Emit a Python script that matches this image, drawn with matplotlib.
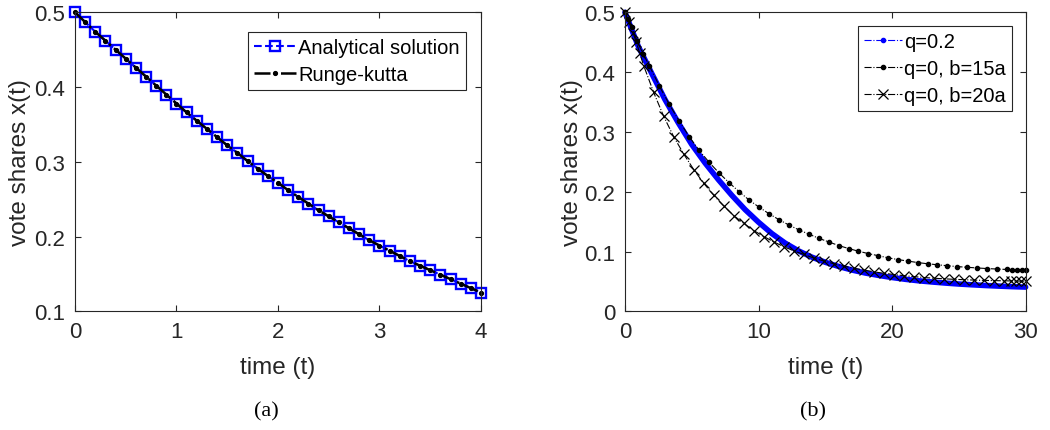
import matplotlib
matplotlib.use('Agg')
import matplotlib.pyplot as plt
from matplotlib.lines import Line2D

plt.rcParams['font.family'] = ['Liberation Sans', 'DejaVu Sans']

# (a) analytical solution vs Runge-Kutta, t = 0..4 step 0.1
t_a = [0.0, 0.1, 0.2, 0.3, 0.4, 0.5, 0.6, 0.7, 0.8, 0.9,
       1.0, 1.1, 1.2, 1.3, 1.4, 1.5, 1.6, 1.7, 1.8, 1.9,
       2.0, 2.1, 2.2, 2.3, 2.4, 2.5, 2.6, 2.7, 2.8, 2.9,
       3.0, 3.1, 3.2, 3.3, 3.4, 3.5, 3.6, 3.7, 3.8, 3.9, 4.0]
x_analytical = [0.500, 0.487, 0.474, 0.462, 0.450, 0.438, 0.426, 0.414, 0.402, 0.390,
                0.378, 0.366, 0.355, 0.344, 0.333, 0.322, 0.312, 0.301, 0.291, 0.281,
                0.272, 0.262, 0.253, 0.244, 0.235, 0.227, 0.219, 0.211, 0.203, 0.195,
                0.188, 0.181, 0.174, 0.167, 0.161, 0.155, 0.149, 0.143, 0.137, 0.131, 0.125]
x_rk = [0.500, 0.487, 0.474, 0.462, 0.450, 0.438, 0.426, 0.414, 0.402, 0.390,
        0.378, 0.366, 0.355, 0.344, 0.333, 0.322, 0.312, 0.301, 0.291, 0.281,
        0.272, 0.262, 0.253, 0.244, 0.235, 0.227, 0.219, 0.211, 0.203, 0.195,
        0.188, 0.181, 0.174, 0.167, 0.161, 0.155, 0.149, 0.143, 0.137, 0.131, 0.125]

# (b) q = 0.2
t_q02 = list(range(0, 31))
x_q02 = [0.500, 0.443, 0.398, 0.354, 0.315, 0.279, 0.248, 0.220, 0.194, 0.170,
         0.149, 0.130, 0.114, 0.101, 0.0905, 0.0820, 0.0750, 0.0690, 0.0640, 0.0600,
         0.0565, 0.0535, 0.0510, 0.0490, 0.0472, 0.0456, 0.0443, 0.0431, 0.0421, 0.0412, 0.0405]

# (b) q = 0, b = 15a
t_b15 = [0.0, 0.2, 0.5, 0.9, 1.37, 1.82, 2.57, 3.32, 4.07, 4.81, 5.56, 6.31, 7.06, 7.8,
         8.55, 9.3, 10.05, 10.8, 11.55, 12.3, 13.04, 13.78, 14.52, 15.26, 16.0, 16.74,
         17.48, 18.22, 18.96, 19.7, 20.44, 21.18, 21.92, 22.66, 23.4, 24.14, 24.88,
         25.62, 26.36, 27.1, 27.84, 28.58, 28.96, 29.34, 29.7, 30.0]
x_b15 = [0.500, 0.488, 0.476, 0.452, 0.430, 0.411, 0.377, 0.346, 0.318, 0.292, 0.269,
         0.249, 0.231, 0.215, 0.200, 0.186, 0.174, 0.163, 0.153, 0.144, 0.136, 0.129,
         0.122, 0.116, 0.110, 0.105, 0.1005, 0.0965, 0.0930, 0.0895, 0.0865, 0.0840,
         0.0815, 0.0795, 0.0778, 0.0762, 0.0748, 0.0736, 0.0725, 0.0715, 0.0707,
         0.0700, 0.0697, 0.0694, 0.0692, 0.0690]

# (b) q = 0, b = 20a
t_b20 = [0.0, 0.3, 0.6, 0.85, 1.1, 1.4, 2.15, 2.9, 3.65, 4.4, 5.15, 5.9, 6.65, 7.4,
         8.15, 8.9, 9.65, 10.4, 11.15, 11.9, 12.65, 13.4, 14.15, 14.9, 15.65, 16.4,
         17.15, 17.9, 18.65, 19.4, 20.15, 20.9, 21.65, 22.4, 23.15, 23.9, 24.65,
         25.4, 26.15, 26.9, 27.65, 28.4, 28.9, 29.3, 29.65, 30.0]
x_b20 = [0.500, 0.483, 0.466, 0.450, 0.432, 0.411, 0.366, 0.326, 0.292, 0.263, 0.237,
         0.214, 0.194, 0.176, 0.160, 0.147, 0.135, 0.125, 0.116, 0.108, 0.101, 0.095,
         0.089, 0.084, 0.0795, 0.0755, 0.0720, 0.0690, 0.0660, 0.0635, 0.0615,
         0.0595, 0.0580, 0.0565, 0.0553, 0.0543, 0.0535, 0.0528, 0.0522, 0.0517,
         0.0513, 0.0510, 0.0508, 0.0506, 0.0505, 0.0504]

DARK = '#262626'


def style_axes(ax):
    for s in ax.spines.values():
        s.set_color(DARK)
        s.set_linewidth(0.8)
    ax.tick_params(direction='in', top=True, right=True, length=4, width=0.8,
                   colors=DARK, labelsize=16, pad=7)
    ax.xaxis.label.set_va('center')
    ax.yaxis.label.set_va('center')


fig = plt.figure(figsize=(10.5, 4.31), dpi=100)
ax1 = fig.add_axes([0.0714, 0.2754, 0.3867, 0.6937])
ax2 = fig.add_axes([0.5952, 0.2754, 0.3816, 0.6937])

# left panel
ax1.plot(t_a, x_analytical, ls='--', color='#0000ff', lw=1.5, marker='s', ms=7.5,
         mfc='none', mec='#0000ff', mew=1.7, label='Analytical solution', clip_on=False)
ax1.plot(t_a, x_rk, ls='-.', color='black', lw=1.8, marker='.', ms=5.5,
         label='Runge-kutta', clip_on=False)
ax1.set_xlim(0, 4)
ax1.set_ylim(0.1, 0.5)
ax1.set_xticks([0, 1, 2, 3, 4])
ax1.set_yticks([0.1, 0.2, 0.3, 0.4, 0.5])
ax1.set_xlabel('time (t)', fontsize=17.5, color=DARK)
ax1.set_ylabel('vote shares x(t)', fontsize=17.5, color=DARK)
style_axes(ax1)
ax1.xaxis.set_label_coords(0.5, -0.186)
ax1.yaxis.set_label_coords(-0.135, 0.5)
leg1 = ax1.legend(loc='upper right', bbox_to_anchor=(0.963, 0.935), borderaxespad=0,
                  fontsize=14.5, fancybox=False, framealpha=1, edgecolor=DARK,
                  handlelength=2.1, handletextpad=0.1, labelspacing=0.4,
                  borderpad=0.3)
leg1.get_frame().set_linewidth(0.8)

# right panel
ax2.plot(t_q02, x_q02, ls='-', color='#0000ff', lw=4, solid_capstyle='round', clip_on=False)
ax2.plot(t_b15, x_b15, ls='-.', color='black', lw=0.8, marker='.', ms=6, clip_on=False)
ax2.plot(t_b20, x_b20, ls='-.', color='black', lw=0.8, marker='x', ms=7.5, mew=0.9,
         clip_on=False)
ax2.set_xlim(0, 30)
ax2.set_ylim(0, 0.5)
ax2.set_xticks([0, 10, 20, 30])
ax2.set_yticks([0, 0.1, 0.2, 0.3, 0.4, 0.5])
ax2.set_yticklabels(['0', '0.1', '0.2', '0.3', '0.4', '0.5'])
ax2.set_xlabel('time (t)', fontsize=17.5, color=DARK)
ax2.set_ylabel('vote shares x(t)', fontsize=17.5, color=DARK)
style_axes(ax2)
ax2.xaxis.set_label_coords(0.5, -0.186)
ax2.yaxis.set_label_coords(-0.133, 0.5)

handles = [
    Line2D([], [], ls='-.', color='#0000ff', lw=0.8, marker='.', ms=6),
    Line2D([], [], ls='-.', color='black', lw=0.8, marker='.', ms=6),
    Line2D([], [], ls='-.', color='black', lw=0.8, marker='x', ms=7.5, mew=0.9),
]
leg2 = ax2.legend(handles, ['q=0.2', 'q=0, b=15a', 'q=0, b=20a'], loc='upper right',
                  bbox_to_anchor=(0.965, 0.955), borderaxespad=0, fontsize=14.5,
                  fancybox=False, framealpha=1, edgecolor=DARK, handlelength=1.9,
                  handletextpad=0.1, labelspacing=0.4, borderpad=0.3)
leg2.get_frame().set_linewidth(0.8)

# sub-figure captions
fig.text(266 / 1050, 1 - 412 / 431, '(a)', ha='center', va='center', fontsize=16,
         family=['Liberation Serif', 'DejaVu Serif'])
fig.text(812.7 / 1050, 1 - 412 / 431, '(b)', ha='center', va='center', fontsize=16,
         family=['Liberation Serif', 'DejaVu Serif'])

fig.savefig('out.png', dpi=100)
